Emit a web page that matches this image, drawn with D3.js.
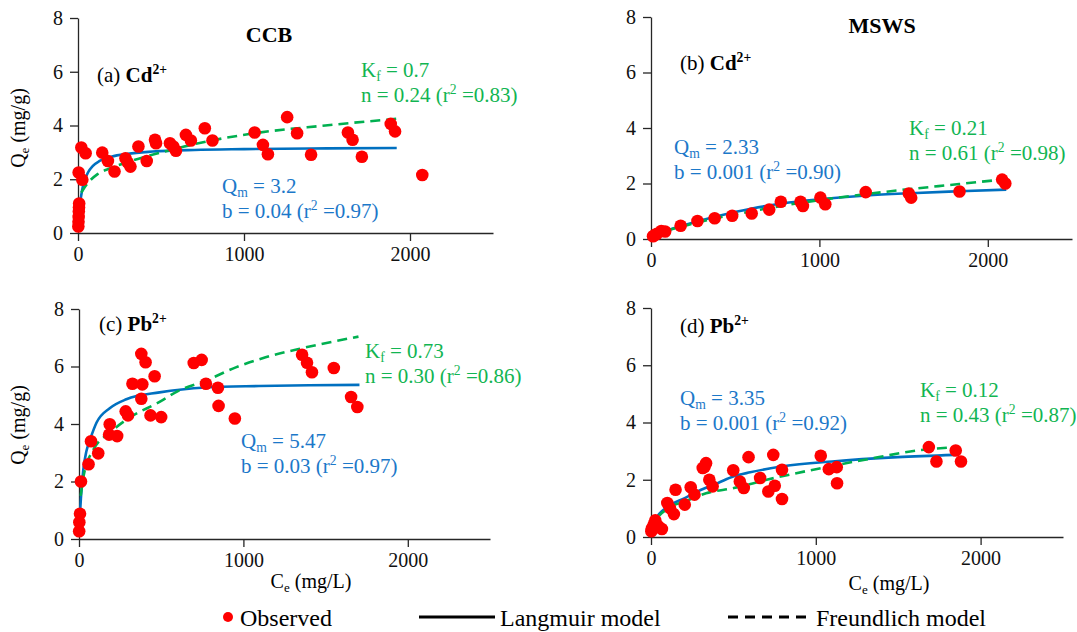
<!DOCTYPE html>
<html>
<head>
<meta charset="utf-8">
<script src="https://cdn.jsdelivr.net/npm/d3@7"></script>
<style>
  body { margin: 0; background: #fff; }
</style>
</head>
<body>
<div class="chart"></div>
<script>
// #region Data (Ce mg/L, Qe mg/g)
const xTicks = [0, 1000, 2000];
const yTicks = [0, 2, 4, 6, 8];

// (a) CCB - Cd
const ccbCdObs = [[2, 0.24], [3, 0.42], [4, 0.6], [5, 0.8], [6, 0.95], [7, 1.1], [4, 2.25], [26, 1.98], [20, 3.18], [46, 2.97],
    [146, 2.99], [180, 2.68], [220, 2.29], [286, 2.78], [300, 2.62], [316, 2.47], [364, 3.22], [414, 2.68], [464, 3.47], [470, 3.34],
    [554, 3.34], [574, 3.22], [590, 3.06], [650, 3.65], [680, 3.44], [764, 3.9], [810, 3.44], [1064, 3.74], [1114, 3.28], [1144, 2.93],
    [1260, 4.31], [1320, 3.71], [1404, 2.91], [1626, 3.74], [1654, 3.47], [1710, 2.84], [1884, 4.06], [1910, 3.78], [2074, 2.16]];
const ccbCdLangmuir = [[3, 0.35], [8, 0.8], [15, 1.2], [25, 1.6], [40, 1.95], [60, 2.25], [90, 2.5], [130, 2.68], [200, 2.84],
    [300, 2.95], [450, 3.03], [700, 3.09], [1000, 3.12], [1500, 3.15], [1920, 3.16]];
const ccbCdFreundlich = [[20, 1.5], [40, 1.7], [120, 2.2], [190, 2.4], [290, 2.62], [490, 2.98], [770, 3.4], [1050, 3.7], [1490, 4.0], [1920, 4.25]];

// (b) MSWS - Cd
const mswsCdObs = [[12, 0.1], [20, 0.13], [35, 0.19], [61, 0.29], [84, 0.27], [176, 0.48], [276, 0.65], [378, 0.75], [482, 0.84], [598, 0.92],
    [702, 1.06], [771, 1.34], [888, 1.34], [902, 1.19], [1006, 1.49], [1035, 1.25], [1275, 1.69], [1531, 1.64], [1545, 1.49],
    [1832, 1.71], [2085, 2.14], [2104, 2.0]];
const mswsCdLangmuir = [[5, 0.05], [90, 0.3], [180, 0.47], [380, 0.8], [600, 1.1], [780, 1.28], [1000, 1.43], [1280, 1.57], [1540, 1.65], [1830, 1.72], [2110, 1.78]];
const mswsCdFreundlich = [[5, 0.04], [100, 0.3], [200, 0.48], [400, 0.77], [600, 1.0], [800, 1.22], [1000, 1.4], [1280, 1.62], [1540, 1.8], [1830, 1.98], [2110, 2.16]];

// (c) CCB - Pb
const ccbPbObs = [[1, 0.27], [2, 0.58], [6, 0.88], [12, 2.0], [58, 2.6], [73, 3.4], [117, 2.98], [187, 3.99], [183, 3.63], [232, 3.58],
    [284, 4.44], [298, 4.3], [325, 5.4], [385, 5.38], [379, 6.44], [405, 6.15], [379, 4.88], [460, 5.66], [435, 4.3], [500, 4.24],
    [698, 6.12], [746, 6.23], [772, 5.4], [845, 5.26], [849, 4.63], [948, 4.19], [1357, 6.41], [1387, 6.13], [1417, 5.8], [1550, 5.95],
    [1655, 4.94], [1693, 4.59]];
const ccbPbLangmuir = [[2, 0.3], [6, 0.85], [12, 1.45], [26, 2.4], [45, 3.05], [67, 3.45], [107, 4.05], [187, 4.55], [288, 4.86],
    [490, 5.1], [772, 5.27], [1095, 5.32], [1400, 5.35], [1706, 5.36]];
const ccbPbFreundlich = [[10, 1.5], [30, 2.25], [87, 3.1], [188, 3.7], [288, 4.15], [490, 4.77], [611, 5.17], [772, 5.51], [954, 5.97],
    [1135, 6.32], [1337, 6.61], [1700, 7.04]];

// (d) MSWS - Pb
const mswsPbObs = [[2, 0.2], [5, 0.3], [16, 0.43], [26, 0.58], [46, 0.37], [66, 0.28], [99, 1.19], [115, 1.01], [139, 0.8], [149, 1.65],
    [205, 1.13], [241, 1.74], [264, 1.48], [314, 2.41], [325, 2.45], [334, 2.58], [354, 2.0], [374, 1.77], [499, 2.33], [539, 1.94],
    [563, 1.71], [592, 2.79], [662, 2.06], [712, 1.59], [742, 2.87], [751, 1.79], [795, 2.35], [795, 1.33], [1030, 2.84], [1079, 2.37],
    [1127, 2.44], [1129, 1.88], [1686, 3.14], [1732, 2.64], [1849, 3.02], [1881, 2.64]];
const mswsPbLangmuir = [[5, 0.3], [26, 0.6], [105, 1.07], [205, 1.36], [304, 1.65], [404, 1.88], [503, 2.12], [602, 2.26], [801, 2.47],
    [1099, 2.64], [1497, 2.79], [1845, 2.87]];
const mswsPbFreundlich = [[5, 0.25], [16, 0.43], [105, 1.01], [205, 1.24], [334, 1.53], [503, 1.71], [702, 2.0], [1000, 2.37], [1298, 2.7],
    [1656, 3.05], [1845, 3.14]];

// fitted parameter labels
const langmuirText = [['3.2', '0.04', '0.97'], ['2.33', '0.001', '0.90'], ['5.47', '0.03', '0.97'], ['3.35', '0.001', '0.92']];
const freundlichText = [['0.7', '0.24', '0.83'], ['0.21', '0.61', '0.98'], ['0.73', '0.30', '0.86'], ['0.12', '0.43', '0.87']];
// #endregion

const W = 1077, H = 632;
const BLUE = '#0070C0', GREEN = '#00B050', RED = '#FF0000';
const BLUE_TXT = '#1C78C9', GREEN_TXT = '#12B552';
const FONT = '"Liberation Serif", "Times New Roman", Tinos, "DejaVu Serif", serif';

const svg = d3.select('.chart').append('svg').attr('width', W).attr('height', H)
    .attr('font-family', FONT);
svg.append('rect').attr('width', W).attr('height', H).attr('fill', '#fff');

// rich text: parts = [[text, kind]], kind: n | b | sub | sup | bsup
function richText(g, x, y, parts, size, color, anchor) {
    const t = g.append('text').attr('x', x).attr('y', y).attr('font-size', size)
        .attr('font-family', FONT)
        .attr('fill', color || '#000').attr('text-anchor', anchor || 'start');
    let shift = 0;
    parts.forEach(([s, k]) => {
        const ts = t.append('tspan').text(s);
        const target = k == 'sub' ? size * 0.18 : (k == 'sup' || k == 'bsup') ? -size * 0.36 : 0;
        if (target - shift != 0) ts.attr('dy', target - shift);
        shift = target;
        if (k == 'sub' || k == 'sup' || k == 'bsup') ts.attr('font-size', size * 0.65);
        if (k == 'b' || k == 'bsup') ts.attr('font-weight', 'bold');
    });
    return t;
}

const panels = [
    { obs: ccbCdObs, lang: ccbCdLangmuir, freu: ccbCdFreundlich, xr: [78, 493], yr: [233, 18], tag: '(a) ', ion: 'Cd', title: 'CCB', titlePos: [269, 42],
      tagPos: [97, 82], langPos: [222, 193], freuPos: [361, 77], yTitle: [25, 128], xTitle: null },
    { obs: mswsCdObs, lang: mswsCdLangmuir, freu: mswsCdFreundlich, xr: [651, 1072], yr: [239, 17], tag: '(b) ', ion: 'Cd', title: 'MSWS', titlePos: [882, 33],
      tagPos: [680, 70], langPos: [674, 154], freuPos: [909, 135], yTitle: null, xTitle: null },
    { obs: ccbPbObs, lang: ccbPbLangmuir, freu: ccbPbFreundlich, xr: [79, 490], yr: [539, 309], tag: '(c) ', ion: 'Pb', title: null,
      tagPos: [99, 331], langPos: [241, 448], freuPos: [365, 358], yTitle: [25, 425], xTitle: [311, 588] },
    { obs: mswsPbObs, lang: mswsPbLangmuir, freu: mswsPbFreundlich, xr: [651, 1063], yr: [537, 308], tag: '(d) ', ion: 'Pb', title: null,
      tagPos: [680, 333], langPos: [680, 405], freuPos: [920, 397], yTitle: null, xTitle: [889, 590] }
];

panels.forEach((p, i) => {
    const g = svg.append('g').attr('class', 'panel' + i);
    const x = d3.scaleLinear().domain([0, 2500]).range(p.xr);
    const y = d3.scaleLinear().domain([0, 8]).range(p.yr);

    // axes
    const gx = g.append('g').attr('transform', 'translate(0,' + p.yr[0] + ')')
        .call(d3.axisBottom(x).tickValues(xTicks).tickFormat(d3.format('d')).tickSize(8).tickSizeOuter(0).tickPadding(6));
    const gy = g.append('g').attr('transform', 'translate(' + p.xr[0] + ',0)')
        .call(d3.axisLeft(y).tickValues(yTicks).tickFormat(d3.format('d')).tickSize(8).tickSizeOuter(0).tickPadding(7));
    [gx, gy].forEach(a => {
        a.attr('font-family', FONT);
        a.selectAll('path, line').attr('stroke', '#262626').attr('stroke-width', 1.3);
        a.selectAll('text').attr('font-size', 20).attr('fill', '#111');
    });

    // model lines
    const line = d3.line().x(d => x(d[0])).y(d => y(d[1])).curve(d3.curveMonotoneX);
    g.append('path').datum(p.lang).attr('d', line).attr('fill', 'none')
        .attr('stroke', BLUE).attr('stroke-width', 2.6);
    g.append('path').datum(p.freu).attr('d', line).attr('fill', 'none')
        .attr('stroke', GREEN).attr('stroke-width', 2.6).attr('stroke-dasharray', '10,6');

    // observed points
    g.selectAll('.obs').data(p.obs).enter().append('circle')
        .attr('class', 'obs')
        .attr('cx', d => x(d[0])).attr('cy', d => y(d[1])).attr('r', 6.3)
        .attr('fill', RED);

    // labels
    if (p.title) richText(g, p.titlePos[0], p.titlePos[1], [[p.title, 'b']], 22, '#000', 'middle');
    richText(g, p.tagPos[0], p.tagPos[1], [[p.tag, 'n'], [p.ion, 'b'], ['2+', 'bsup']], 21);
    const lt = langmuirText[i], ft = freundlichText[i];
    richText(g, p.langPos[0], p.langPos[1], [['Q', 'n'], ['m', 'sub'], [' = ' + lt[0], 'n']], 21, BLUE_TXT);
    richText(g, p.langPos[0], p.langPos[1] + 25, [['b = ' + lt[1] + ' (r', 'n'], ['2', 'sup'], [' =' + lt[2] + ')', 'n']], 21, BLUE_TXT);
    richText(g, p.freuPos[0], p.freuPos[1], [['K', 'n'], ['f', 'sub'], [' = ' + ft[0], 'n']], 21, GREEN_TXT);
    richText(g, p.freuPos[0], p.freuPos[1] + 25, [['n = ' + ft[1] + ' (r', 'n'], ['2', 'sup'], [' =' + ft[2] + ')', 'n']], 21, GREEN_TXT);

    if (p.yTitle) {
        richText(g, 0, 0, [['Q', 'n'], ['e', 'sub'], [' (mg/g)', 'n']], 20, '#000', 'middle')
            .attr('transform', 'translate(' + p.yTitle[0] + ',' + p.yTitle[1] + ') rotate(-90)');
    }
    if (p.xTitle) {
        richText(g, p.xTitle[0], p.xTitle[1], [['C', 'n'], ['e', 'sub'], [' (mg/L)', 'n']], 20, '#000', 'middle');
    }
});

// #region Legend
const gLegend = svg.append('g').attr('class', 'legend').attr('font-family', FONT);
gLegend.append('circle').attr('cx', 228).attr('cy', 617).attr('r', 5).attr('fill', RED);
gLegend.append('text').attr('x', 240).attr('y', 626).attr('font-size', 24).text('Observed');
gLegend.append('line').attr('x1', 419).attr('x2', 495).attr('y1', 617).attr('y2', 617)
    .attr('stroke', '#000').attr('stroke-width', 3);
gLegend.append('text').attr('x', 500).attr('y', 626).attr('font-size', 24).text('Langmuir model');
gLegend.append('line').attr('x1', 728).attr('x2', 811).attr('y1', 617).attr('y2', 617)
    .attr('stroke', '#000').attr('stroke-width', 3).attr('stroke-dasharray', '10,7');
gLegend.append('text').attr('x', 816).attr('y', 626).attr('font-size', 24).text('Freundlich model');
// #endregion
</script>
</body>
</html>
